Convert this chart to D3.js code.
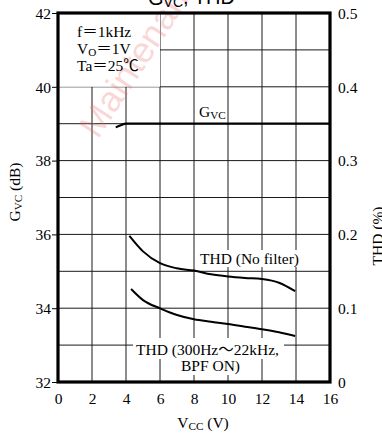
<!DOCTYPE html>
<html>
<head>
<meta charset="utf-8">
<script src="https://cdn.jsdelivr.net/npm/d3@7/dist/d3.min.js"></script>
<style>
  html, body { margin: 0; padding: 0; background: #fff; }
  svg { display: block; }
</style>
</head>
<body>
<svg id="chart" width="382" height="433"></svg>
<script>
// Supply voltage (V) and measured curves
const gvcVcc = [3.4, 3.7, 4.0, 5, 6, 8, 10, 12, 14, 16];
const gvcDb = [38.9, 38.96, 39.0, 39.0, 39.0, 39.0, 39.0, 39.0, 39.0, 39.0];

const thdVcc = [4.2, 5, 6, 7, 8, 9, 10, 11, 12, 13, 13.95];
const thdNoFilter = [0.198, 0.177, 0.161, 0.154, 0.151, 0.146, 0.143, 0.141, 0.1395, 0.1345, 0.123];

const bpfVcc = [4.3, 5, 6, 7, 8, 9, 10, 11, 12, 13, 13.95];
const thdBpf = [0.126, 0.111, 0.0998, 0.0908, 0.085, 0.0817, 0.0786, 0.075, 0.0714, 0.0673, 0.0623];

// Tick values
const xTicks = [0, 2, 4, 6, 8, 10, 12, 14, 16];
const gvcTicks = [32, 34, 36, 38, 40, 42];
const thdTicks = [0, 0.1, 0.2, 0.3, 0.4, 0.5];
const gridX = [2, 4, 6, 8, 10, 12, 14];
const gridY = [33, 34, 35, 36, 37, 38, 39, 40, 41];

const SERIF = "'Liberation Serif', 'Times New Roman', 'Noto Sans CJK JP', serif";
const SANS = "'Liberation Sans', Arial, sans-serif";

const svg = d3.select("#chart");
const L = 58, R = 330, T = 13, B = 382;

const x = d3.scaleLinear().domain([0, 16]).range([L, R]);
const yG = d3.scaleLinear().domain([32, 42]).range([B, T]);
const yT = d3.scaleLinear().domain([0, 0.5]).range([B, T]);

// grid
const grid = svg.append("g").attr("stroke", "#1a1a1a").attr("stroke-width", 1);
grid.selectAll("line.v").data(gridX).join("line")
  .attr("x1", d => x(d)).attr("x2", d => x(d))
  .attr("y1", T).attr("y2", B);
grid.selectAll("line.h").data(gridY).join("line")
  .attr("x1", L).attr("x2", R)
  .attr("y1", d => yG(d)).attr("y2", d => yG(d));

// blank panel for the measuring conditions
svg.append("rect").attr("x", L).attr("y", T)
  .attr("width", x(6) - L).attr("height", yG(40) - T).attr("fill", "#fff");

// white backing behind in-plot labels
const masks = [
  [197, 250, 106, 17],
  [133, 338, 151, 21],
  [177, 359, 66, 16]
];
svg.selectAll("rect.mask").data(masks).join("rect")
  .attr("x", d => d[0]).attr("y", d => d[1])
  .attr("width", d => d[2]).attr("height", d => d[3]).attr("fill", "#fff");

// watermark
svg.append("text")
  .attr("transform", "translate(98,140) rotate(-57)")
  .attr("font-family", SANS)
  .attr("font-size", 36)
  .attr("fill", "#f07070").attr("fill-opacity", 0.28)
  .text("Maintenance");

// curves
const lineG = d3.line().x(d => x(d[0])).y(d => yG(d[1])).curve(d3.curveMonotoneX);
const lineT = d3.line().x(d => x(d[0])).y(d => yT(d[1])).curve(d3.curveMonotoneX);

svg.append("path").datum(d3.zip(gvcVcc, gvcDb)).attr("d", lineG)
  .attr("fill", "none").attr("stroke", "#000").attr("stroke-width", 2.2);
svg.append("path").datum(d3.zip(thdVcc, thdNoFilter)).attr("d", lineT)
  .attr("fill", "none").attr("stroke", "#000").attr("stroke-width", 2);
svg.append("path").datum(d3.zip(bpfVcc, thdBpf)).attr("d", lineT)
  .attr("fill", "none").attr("stroke", "#000").attr("stroke-width", 2);

// frame
svg.append("rect").attr("x", L).attr("y", T).attr("width", R - L).attr("height", B - T)
  .attr("fill", "none").attr("stroke", "#000").attr("stroke-width", 3.2);

// axes
const fmtT = d => d === 0 ? "0" : d3.format(".1f")(d);
const axL = svg.append("g").attr("transform", `translate(${L - 1},0)`)
  .call(d3.axisLeft(yG).tickValues(gvcTicks).tickSize(5).tickPadding(1));
const axR = svg.append("g").attr("transform", `translate(${R + 1},0)`)
  .call(d3.axisRight(yT).tickValues(thdTicks).tickFormat(fmtT).tickSize(0).tickPadding(7));
const axB = svg.append("g").attr("transform", `translate(0,${B + 1})`)
  .call(d3.axisBottom(x).tickValues(xTicks).tickSize(0).tickPadding(10));
[axL, axR, axB].forEach(a => {
  a.attr("font-family", SERIF).attr("font-size", 15.5);
  a.select(".domain").remove();
  a.selectAll("text").attr("fill", "#000");
  a.selectAll("line").attr("stroke", "#000");
});
axL.selectAll("text").attr("dy", "0.34em");
axR.selectAll("text").attr("dy", "0.34em");

// text helpers
function subText(g, parts, attrs) {
  const t = g.append("text").attr("font-family", SERIF).attr("fill", "#000");
  Object.entries(attrs).forEach(([k, v]) => t.attr(k, v));
  parts.forEach(p => {
    const s = t.append("tspan").text(p.t);
    if (p.sub) s.attr("font-size", "0.72em").attr("dy", "0.18em");
    if (p.back) s.attr("dy", "-0.13em");
  });
  return t;
}

// conditions
subText(svg, [{t: "f＝1kHz"}], {x: 77, y: 37, "font-size": 15.5});
subText(svg, [{t: "V"}, {t: "O", sub: true}, {t: "＝1V", back: true}], {x: 77, y: 54, "font-size": 15.5});
subText(svg, [{t: "Ta＝25℃"}], {x: 77, y: 71, "font-size": 15.5});

// series labels
subText(svg, [{t: "G"}, {t: "VC", sub: true}], {x: 199, y: 117, "font-size": 15.5});
subText(svg, [{t: "THD (No filter)"}], {x: 200, y: 264, "font-size": 15.5});
subText(svg, [{t: "THD (300Hz～22kHz,"}], {x: 136, y: 355, "font-size": 15.5});
subText(svg, [{t: "BPF ON)"}], {x: 181, y: 371, "font-size": 15.5});

// axis titles
subText(svg, [{t: "V"}, {t: "CC", sub: true}, {t: " (V)", back: true}],
  {x: 203, y: 428, "font-size": 15.5, "text-anchor": "middle"});
subText(svg, [{t: "G"}, {t: "VC", sub: true}, {t: " (dB)", back: true}],
  {transform: "translate(20,192) rotate(-90)", "font-size": 15.5, "text-anchor": "middle"});
subText(svg, [{t: "THD (%)"}],
  {transform: "translate(383,236) rotate(-90)", "font-size": 15.5, "text-anchor": "middle"});

// title
const title = svg.append("text").attr("x", 148).attr("y", 5)
  .attr("font-family", SANS).attr("font-size", 20).attr("fill", "#000");
title.append("tspan").text("G");
title.append("tspan").text("VC").attr("font-size", "0.7em").attr("dy", "0.15em");
title.append("tspan").text(", THD").attr("dy", "-0.15em");
</script>
</body>
</html>
